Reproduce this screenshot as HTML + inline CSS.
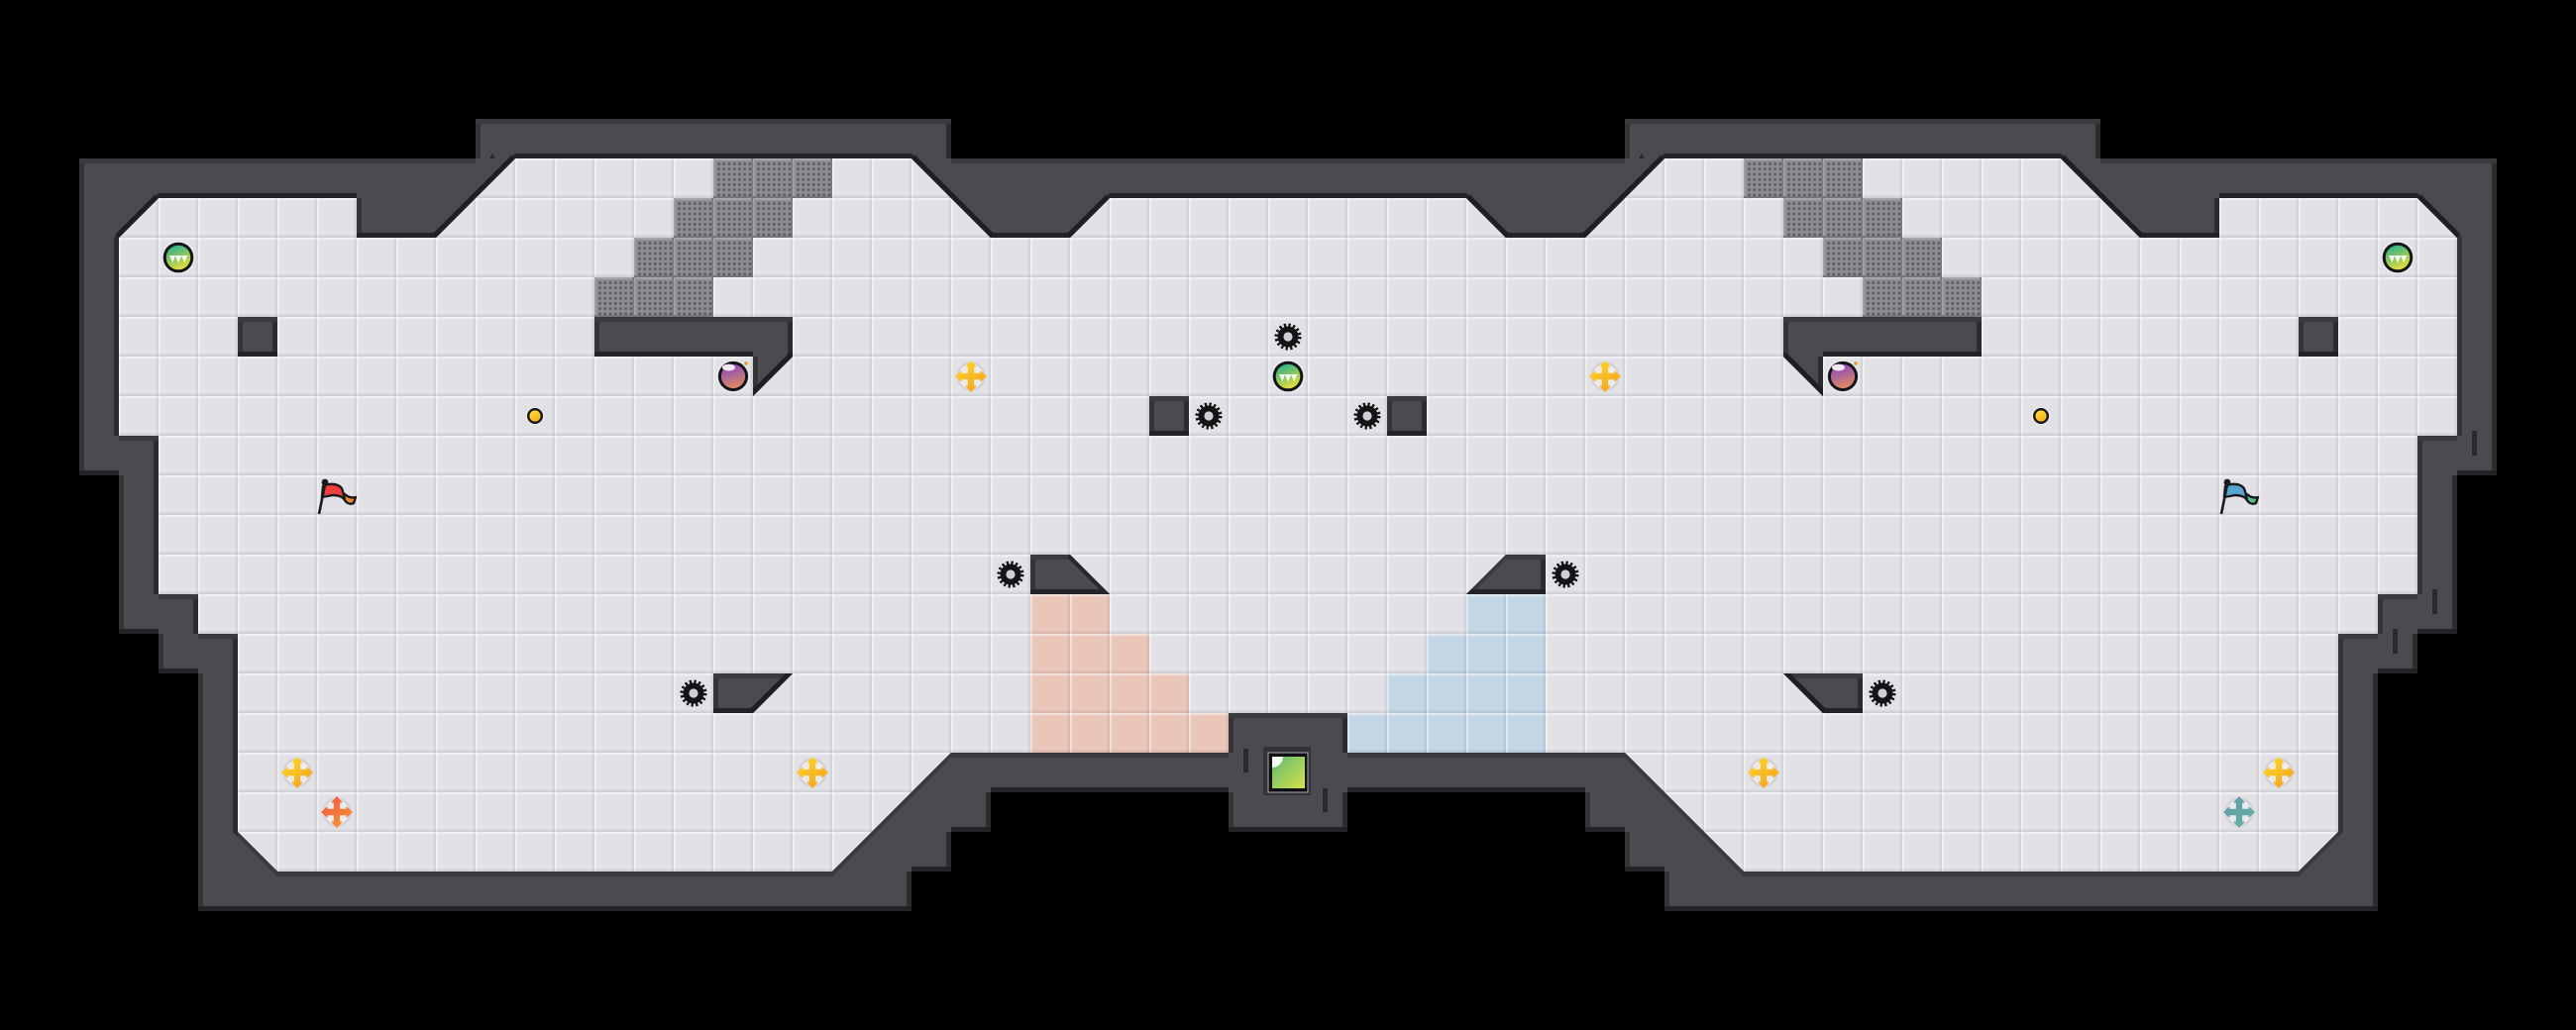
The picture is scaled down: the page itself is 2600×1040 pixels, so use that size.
<!DOCTYPE html>
<html>
<head>
<meta charset="utf-8">
<style>
html,body{margin:0;padding:0;background:#000;width:2600px;height:1040px;overflow:hidden}
svg{display:block;overflow:hidden}
</style>
</head>
<body>
<svg xmlns="http://www.w3.org/2000/svg" width="2600" height="1040" viewBox="0 0 2600 1040">
<defs>
<pattern id="tile" width="40" height="40" patternUnits="userSpaceOnUse">
  <rect x="0" y="0" width="40" height="1.5" fill="rgba(255,255,255,.55)"/>
  <rect x="0" y="1.5" width="40" height="1.5" fill="rgba(255,255,255,.15)"/>
  <rect x="0" y="0" width="1.5" height="40" fill="rgba(255,255,255,.5)"/>
  <rect x="1.5" y="0" width="1.5" height="40" fill="rgba(255,255,255,.12)"/>
  <rect x="38.5" y="0" width="1.5" height="40" fill="rgba(90,90,115,.12)"/>
  <rect x="37" y="0" width="1.5" height="40" fill="rgba(90,90,115,.05)"/>
  <rect x="0" y="38.5" width="40" height="1.5" fill="rgba(90,90,115,.14)"/>
  <rect x="0" y="37" width="40" height="1.5" fill="rgba(90,90,115,.06)"/>
</pattern>
<pattern id="perf" width="40" height="40" patternUnits="userSpaceOnUse">
  <rect width="40" height="40" fill="#8d8d91"/>
  <rect x="0" y="0" width="40" height="2" fill="#a5a5a9"/>
  <rect x="0" y="0" width="2" height="40" fill="#a0a0a4"/>
  <rect x="38" y="0" width="2" height="40" fill="#7c7c80"/>
  <rect x="0" y="38" width="40" height="2" fill="#77777b"/>
  <g stroke="#5d5d61" stroke-width="2.6" stroke-dasharray="2.6 2.6" fill="none">
    <path d="M4.3 5.6H38M4.3 10.8H38M4.3 16H38M4.3 21.2H38M4.3 26.4H38M4.3 31.6H38M4.3 36.8H38"/>
  </g>
</pattern>
<path id="n" fill-rule="evenodd" d="M20 20H2580V1020H20Z
M80 160H480V120H960V160H1640V120H2120V160H2520V480H2480V640H2440V680H2400V920H1680V880H1640V840H1600V800H1360V840H1240V800H1000V840H960V880H920V920H200V680H160V640H120V480H80Z
M120 240L160 200H360V240H440L520 160H920L1000 240H1080L1120 200H1480L1520 240H1600L1680 160H2080L2160 240H2240V200H2440L2480 240V440H2440V600H2400V640H2360V840L2320 880H1760L1640 760H1360V720H1240V760H960L840 880H280L240 840V640H200V600H160V440H120Z
M240 320H280V360H240Z M2320 320H2360V360H2320Z M1160 400H1200V440H1160Z M1400 400H1440V440H1400Z
M600 320H800V360L760 400V360H600Z M2000 320H1800V360L1840 400V360H2000Z
M1040 560H1080L1120 600H1040Z M1560 560H1520L1480 600H1560Z
M720 680H800L760 720H720Z M1880 680H1800L1840 720H1880Z"/>
<clipPath id="wc">
  <path clip-rule="evenodd" d="M80 160H480V120H960V160H1640V120H2120V160H2520V480H2480V640H2440V680H2400V920H1680V880H1640V840H1600V800H1360V840H1240V800H1000V840H960V880H920V920H200V680H160V640H120V480H80Z
M120 240L160 200H360V240H440L520 160H920L1000 240H1080L1120 200H1480L1520 240H1600L1680 160H2080L2160 240H2240V200H2440L2480 240V440H2440V600H2400V640H2360V840L2320 880H1760L1640 760H1360V720H1240V760H960L840 880H280L240 840V640H200V600H160V440H120Z
M240 320H280V360H240Z M2320 320H2360V360H2320Z M1160 400H1200V440H1160Z M1400 400H1440V440H1400Z
M600 320H800V360L760 400V360H600Z M2000 320H1800V360L1840 400V360H2000Z
M1040 560H1080L1120 600H1040Z M1560 560H1520L1480 600H1560Z
M720 680H800L760 720H720Z M1880 680H1800L1840 720H1880Z"/>
</clipPath>
<linearGradient id="gBall" x1="0.3" y1="0" x2="0.7" y2="1"><stop offset="0.1" stop-color="#39b485"/><stop offset="0.9" stop-color="#e2dc3e"/></linearGradient>
<linearGradient id="pBall" x1="0.3" y1="0" x2="0.6" y2="1"><stop offset="0.1" stop-color="#8a4cb8"/><stop offset="0.95" stop-color="#e08a62"/></linearGradient>
<linearGradient id="gold" x1="0.2" y1="0" x2="0.8" y2="1"><stop offset="0" stop-color="#ffe23a"/><stop offset="1" stop-color="#f7a51c"/></linearGradient>
<linearGradient id="yc" x1="0.1" y1="0.1" x2="0.7" y2="1"><stop offset="0" stop-color="#fbd92a"/><stop offset="1" stop-color="#f8a11f"/></linearGradient>
<linearGradient id="rc" x1="0.1" y1="0.1" x2="0.7" y2="1"><stop offset="0" stop-color="#f2583e"/><stop offset="1" stop-color="#f79438"/></linearGradient>
<linearGradient id="tc" x1="0.1" y1="0.1" x2="0.7" y2="1"><stop offset="0" stop-color="#5c9ca6"/><stop offset="1" stop-color="#68b0a4"/></linearGradient>
<linearGradient id="exit" x1="0" y1="0" x2="1" y2="1"><stop offset="0" stop-color="#5fb872"/><stop offset="1" stop-color="#d5e24a"/></linearGradient>
<g id="saw">
  <circle r="11.5" fill="none" stroke="#141416" stroke-width="4" stroke-dasharray="2.26 2.26"/>
  <circle r="10.5" fill="#141416"/>
  <circle r="4.6" fill="#cfcfd4"/>
</g>
<g id="gb">
  <circle r="17" fill="#e9e9ed"/>
  <circle r="13.8" fill="url(#gBall)" stroke="#151517" stroke-width="3"/>
  <path d="M-9 -2H-3L-5.5 5ZM-3.2 -2H3.2L0.2 5.5ZM3 -2H9.5L6.2 5Z" fill="#f6f9f0"/>
</g>
<g id="pb">
  <circle r="17" fill="#e9e9ed"/>
  <circle r="13.6" fill="url(#pBall)" stroke="#151517" stroke-width="3"/>
  <ellipse cx="-4.5" cy="-9" rx="6.5" ry="3.4" fill="#f3e9f5"/>
  <circle cx="13" cy="-13" r="1.8" fill="#f0962a"/>
</g>
<g id="gd">
  <circle r="9" fill="#ececf0"/>
  <circle r="6.8" fill="url(#gold)" stroke="#151517" stroke-width="2.4"/>
</g>
<path id="cr" d="M-3.2 -9.5L-6 -9.5L0 -16L6 -9.5L3.2 -9.5L3.2 -3.2L9.5 -3.2L9.5 -6L16 0L9.5 6L9.5 3.2L3.2 3.2L3.2 9.5L6 9.5L0 16L-6 9.5L-3.2 9.5L-3.2 3.2L-9.5 3.2L-9.5 6L-16 0L-9.5 -6L-9.5 -3.2L-3.2 -3.2Z"/>
<circle id="crb" r="13.5" fill="#ebebef" stroke="#cfcfd5" stroke-width="2"/>
<g id="pole">
  <path d="M0 0L6 -30" stroke="#1b1b1d" stroke-width="2.6" fill="none"/>
  <circle cx="6" cy="-32" r="3.4" fill="#1b1b1d"/>
</g>
</defs>

<rect width="2600" height="1040" fill="#000"/>

<!-- floor -->
<path fill="#e1e1e6" d="M120 240L160 200H360V240H440L520 160H920L1000 240H1080L1120 200H1480L1520 240H1600L1680 160H2080L2160 240H2240V200H2440L2480 240V440H2440V600H2400V640H2360V840L2320 880H1760L1640 760H1360V720H1240V760H960L840 880H280L240 840V640H200V600H160V440H120Z"/>
<!-- peach -->
<path fill="#e9c6b8" d="M1040 600H1120V640H1160V680H1200V720H1240V760H1040Z"/>
<!-- blue -->
<path fill="#c2d6e5" d="M1560 600H1480V640H1440V680H1400V720H1360V760H1560Z"/>
<!-- tile lines -->
<path fill="url(#tile)" d="M120 240L160 200H360V240H440L520 160H920L1000 240H1080L1120 200H1480L1520 240H1600L1680 160H2080L2160 240H2240V200H2440L2480 240V440H2440V600H2400V640H2360V840L2320 880H1760L1640 760H1360V720H1240V760H960L840 880H280L240 840V640H200V600H160V440H120Z"/>
<!-- perforated -->
<path fill="url(#perf)" d="M720 160H840V200H800V240H760V280H720V320H600V280H640V240H680V200H720Z"/>
<path fill="url(#perf)" d="M1760 160H1880V200H1920V240H1960V280H2000V320H1880V280H1840V240H1800V200H1760Z"/>

<!-- walls -->
<g clip-path="url(#wc)">
  <rect width="2600" height="1040" fill="#4a4a4f"/>
  <use href="#n" transform="translate(5,0)" fill="#343438"/>
  <use href="#n" transform="translate(-5,0)" fill="#2b2b2f"/>
  <use href="#n" transform="translate(0,5)" fill="#3a3a3f"/>
  <use href="#n" transform="translate(0,-5)" fill="#242428"/>
  <g stroke="#1f1f23" stroke-width="10" fill="none">
    <path d="M120 240L160 200M440 240L520 160M920 160L1000 240M1080 240L1120 200M1480 200L1520 240M1600 240L1680 160M2080 160L2160 240M2440 200L2480 240M800 360L760 400M1800 360L1840 400M800 680L760 720M1800 680L1840 720"/>
  </g>
  <path d="M1080 560L1120 600" stroke="#27272b" stroke-width="8" fill="none"/>
</g>

<!-- wall marks -->
<g fill="#2a2a2e">
  <rect x="1255" y="756" width="5" height="24"/>
  <rect x="1335" y="796" width="5" height="24"/>
  <rect x="2495" y="435" width="5" height="25"/>
  <rect x="2455" y="595" width="5" height="25"/>
  <rect x="2415" y="635" width="5" height="25"/>
  <path d="M494 160L497 155L500 160Z"/>
  <path d="M1654 160L1657 155L1660 160Z"/>
</g>

<!-- exit -->
<rect x="1275" y="754" width="48" height="49" fill="#333338"/>
<rect x="1280" y="760" width="40" height="40" fill="#111113" stroke="#a9a9ad" stroke-width="1"/>
<rect x="1284" y="764" width="33" height="32" fill="url(#exit)"/>
<path d="M1284 764H1295A11 11 0 0 1 1284 775Z" fill="#f6f8f2"/>

<!-- saws -->
<use href="#saw" x="1300" y="340"/>
<use href="#saw" x="1220" y="420"/>
<use href="#saw" x="1380" y="420"/>
<use href="#saw" x="1020" y="580"/>
<use href="#saw" x="1580" y="580"/>
<use href="#saw" x="700" y="700"/>
<use href="#saw" x="1900" y="700"/>

<!-- balls -->
<use href="#gb" x="180" y="260"/>
<use href="#gb" x="2420" y="260"/>
<use href="#gb" x="1300" y="380"/>
<use href="#pb" x="740" y="380"/>
<use href="#pb" x="1860" y="380"/>
<use href="#gd" x="540" y="420"/>
<use href="#gd" x="2060" y="420"/>

<!-- pickups -->
<g transform="translate(980,380)"><use href="#crb"/><use href="#cr" fill="url(#yc)"/></g>
<g transform="translate(1620,380)"><use href="#crb"/><use href="#cr" fill="url(#yc)"/></g>
<g transform="translate(300,780)"><use href="#crb"/><use href="#cr" fill="url(#yc)"/></g>
<g transform="translate(820,780)"><use href="#crb"/><use href="#cr" fill="url(#yc)"/></g>
<g transform="translate(1780,780)"><use href="#crb"/><use href="#cr" fill="url(#yc)"/></g>
<g transform="translate(2300,780)"><use href="#crb"/><use href="#cr" fill="url(#yc)"/></g>
<g transform="translate(340,820)"><use href="#crb"/><use href="#cr" fill="url(#rc)"/></g>
<g transform="translate(2260,820)"><use href="#crb"/><use href="#cr" fill="url(#tc)"/></g>

<!-- red flag -->
<g transform="translate(322,519)">
  <path d="M24 -17C27 -11 31 -9 35 -11L37 -17C33 -16 29 -17 26 -20Z" fill="#f08a2c" stroke="#1b1b1d" stroke-width="2.4" stroke-linejoin="round"/>
  <path d="M4 -28C9 -31 18 -31 22 -27C25 -24 24 -19 26 -15C22 -18 19 -19 14 -19L3 -17Z" fill="#ee3e3e" stroke="#1b1b1d" stroke-width="2.4" stroke-linejoin="round"/>
  <use href="#pole"/>
</g>
<!-- blue flag -->
<g transform="translate(2242,519)">
  <path d="M24 -17C27 -11 31 -9 35 -11L37 -17C33 -16 29 -17 26 -20Z" fill="#55c08a" stroke="#1b1b1d" stroke-width="2.4" stroke-linejoin="round"/>
  <path d="M4 -28C9 -31 18 -31 22 -27C25 -24 24 -19 26 -15C22 -18 19 -19 14 -19L3 -17Z" fill="#58a6d0" stroke="#1b1b1d" stroke-width="2.4" stroke-linejoin="round"/>
  <use href="#pole"/>
</g>
</svg>
</body>
</html>
